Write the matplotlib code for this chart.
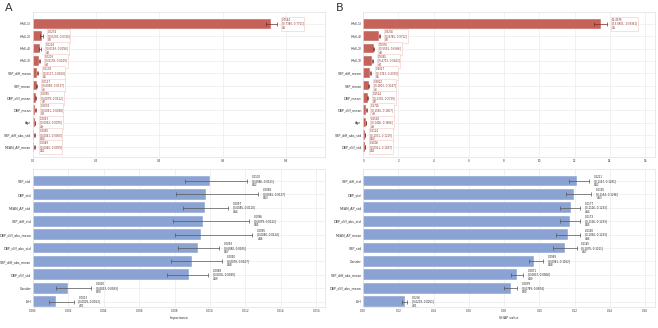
import numpy as np
import matplotlib
matplotlib.use("Agg")
import matplotlib.pyplot as plt
from matplotlib.ticker import FormatStrFormatter

# top A: permutation importance, top 11
topA_names = ["Hfd(-1)", "Hfd(-2)", "Hfd(-4)", "Hfd(-3)", "SBP_diff_mean", "SBP_mean",
              "DBP_diff_mean", "DBP_mean", "Age", "SBP_diff_abs_std", "MEAN_AP_mean"]
topA_vals = [0.7544, 0.0274, 0.0224, 0.0203, 0.0138, 0.0117, 0.0095, 0.0074, 0.0063, 0.0050, 0.0049]
topA_lo = [0.7380, 0.0238, 0.0193, 0.0178, 0.0117, 0.0098, 0.0079, 0.0061, 0.0052, 0.0041, 0.0040]
topA_hi = [0.7711, 0.0310, 0.0256, 0.0229, 0.0160, 0.0137, 0.0112, 0.0088, 0.0075, 0.0060, 0.0059]

# top B: SHAP, top 11
topB_names = ["Hfd(-1)", "Hfd(-4)", "Hfd(-2)", "Hfd(-3)", "SBP_diff_mean", "SBP_mean",
              "DBP_mean", "DBP_diff_mean", "Age", "SBP_diff_abs_std", "DBP_diff_std"]
topB_vals = [13.4976, 0.9236, 0.5976, 0.5065, 0.4027, 0.3022, 0.2524, 0.1726, 0.1528, 0.1124, 0.1006]
topB_lo = [13.0801, 0.8745, 0.5591, 0.4712, 0.3743, 0.2801, 0.2330, 0.1590, 0.1406, 0.1031, 0.0921]
topB_hi = [13.8361, 0.9712, 0.6366, 0.5402, 0.4309, 0.3247, 0.2719, 0.1867, 0.1656, 0.1219, 0.1097]

# bottom A: permutation importance, rank 12-21
botA_names = ["SBP_std", "DBP_std", "MEAN_AP_std", "SBP_diff_std", "DBP_diff_abs_mean",
              "DBP_diff_abs_std", "SBP_diff_abs_mean", "DBP_diff_std", "Gender", "ISH"]
botA_vals = [0.0100, 0.0098, 0.0097, 0.0096, 0.0095, 0.0093, 0.0090, 0.0088, 0.0020, 0.0013]
botA_lo = [0.0086, 0.0081, 0.0085, 0.0079, 0.0080, 0.0082, 0.0078, 0.0076, 0.0013, 0.0009]
botA_hi = [0.0121, 0.0127, 0.0110, 0.0122, 0.0124, 0.0105, 0.0107, 0.0099, 0.0033, 0.0023]

# bottom B: SHAP, rank 12-21
botB_names = ["SBP_diff_std", "DBP_std", "MEAN_AP_std", "DBP_diff_abs_std", "MEAN_AP_mean",
              "SBP_std", "Gender", "SBP_diff_abs_mean", "DBP_diff_abs_mean", "ISH"]
botB_vals = [0.1211, 0.1195, 0.1177, 0.1173, 0.1160, 0.1145, 0.0969, 0.0871, 0.0839, 0.0236]
botB_lo = [0.1167, 0.1154, 0.1116, 0.1116, 0.1092, 0.1075, 0.0941, 0.0837, 0.0799, 0.0219]
botB_hi = [0.1281, 0.1296, 0.1233, 0.1233, 0.1233, 0.1211, 0.1022, 0.0908, 0.0874, 0.0251]

RED = "#c5625a"
BLUE = "#8aa3d2"


def panel(ax, names, vals, lo, hi, rank0, color, ecolor, tcolor, boxed, xmax, ticks, fmt, xlabel=""):
    y = np.arange(len(names))
    vals = np.array(vals); lo = np.array(lo); hi = np.array(hi)
    ax.barh(y, vals, height=0.8, color=color, edgecolor="white", linewidth=0.3, zorder=2)
    ax.errorbar(vals, y, xerr=[vals - lo, hi - vals], fmt="none", ecolor=ecolor,
                elinewidth=0.5, capsize=1.2, capthick=0.5, zorder=3)
    for i in range(len(names)):
        txt = f"{vals[i]:.4f}\n[{lo[i]:.4f}, {hi[i]:.4f}]\n#{rank0 + i}"
        bb = dict(boxstyle="square,pad=0.35", fc="white", ec="#f0c8c4", lw=0.4) if boxed else None
        ax.annotate(txt, (hi[i], y[i]), xytext=(3.5, 0), textcoords="offset points",
                    ha="left", va="center", fontsize=1.9, color=tcolor,
                    linespacing=1.0, bbox=bb, zorder=4)
    ax.set_yticks(y)
    ax.set_yticklabels(names)
    ax.set_xlim(0, xmax)
    ax.set_xticks(ticks)
    ax.xaxis.set_major_formatter(FormatStrFormatter(fmt))
    ax.tick_params(axis="y", labelsize=2.3, length=0, pad=1.2, colors="#333333")
    ax.tick_params(axis="x", labelsize=2.0, length=0, pad=1.5, colors="#333333")
    ax.grid(True, color="#ececec", linewidth=0.5, zorder=0)
    ax.set_axisbelow(True)
    for s in ax.spines.values():
        s.set_color("#e2e2e2")
        s.set_linewidth(0.5)
    if xlabel:
        ax.set_xlabel(xlabel, fontsize=2.4, labelpad=2, color="#333333")


fig = plt.figure(figsize=(6.58, 3.28), dpi=100)
axA = fig.add_axes([0.050, 0.521, 0.444, 0.442])
axB = fig.add_axes([0.552, 0.521, 0.443, 0.442])
axC = fig.add_axes([0.050, 0.064, 0.444, 0.421])
axD = fig.add_axes([0.552, 0.064, 0.443, 0.421])

panel(axA, topA_names, topA_vals, topA_lo, topA_hi, 1, RED, "#7a2e28", "#8a2f28", True,
      0.924, np.arange(0, 0.81, 0.2), "%.1f")
panel(axB, topB_names, topB_vals, topB_lo, topB_hi, 1, RED, "#7a2e28", "#8a2f28", True,
      16.55, np.arange(0, 17, 2), "%d")
panel(axC, botA_names, botA_vals, botA_lo, botA_hi, 12, BLUE, "#555555", "#222222", False,
      0.0165, np.arange(0, 0.0161, 0.002), "%.3f", "Importance")
panel(axD, botB_names, botB_vals, botB_lo, botB_hi, 12, BLUE, "#555555", "#222222", False,
      0.1655, np.arange(0, 0.161, 0.02), "%.2f", "SHAP value")

axA.set_ylim(10.8, -0.95)
axB.set_ylim(10.8, -0.95)
axC.set_ylim(9.4, -0.9)
axD.set_ylim(9.4, -0.9)

fig.text(0.008, 0.965, "A", fontsize=8, color="#333333")
fig.text(0.510, 0.965, "B", fontsize=8, color="#333333")

fig.savefig("out.png", dpi=100)
